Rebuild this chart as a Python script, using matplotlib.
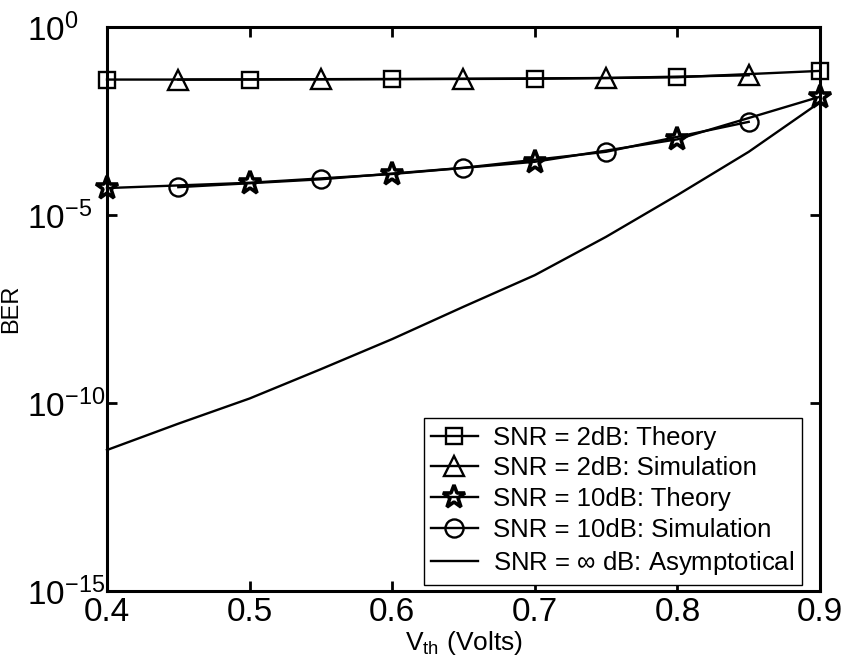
import matplotlib
matplotlib.use("Agg")
import matplotlib.pyplot as plt
import numpy as np

plt.rcParams['font.family'] = ['Liberation Sans', 'DejaVu Sans']
plt.rcParams['mathtext.fontset'] = 'custom'
plt.rcParams['mathtext.rm'] = 'Liberation Sans'
plt.rcParams['mathtext.it'] = 'Liberation Sans'

# Data
x_theory = [0.4, 0.5, 0.6, 0.7, 0.8, 0.9]
x_sim = [0.45, 0.55, 0.65, 0.75, 0.85]
ber_2db_theory = [0.040, 0.040, 0.041, 0.042, 0.046, 0.068]
ber_2db_sim = [0.040, 0.041, 0.042, 0.044, 0.052]
ber_10db_theory = [5.2e-5, 7.2e-5, 1.23e-4, 2.6e-4, 1.03e-3, 1.4e-2]
ber_10db_sim = [5.5e-5, 8.9e-5, 1.8e-4, 4.8e-4, 3.0e-3]
x_asym = [0.40, 0.45, 0.50, 0.55, 0.60, 0.65, 0.70, 0.75, 0.80, 0.85, 0.90]
log_ber_asym = [-11.25, -10.55, -9.88, -9.1, -8.3, -7.44, -6.60, -5.58, -4.47, -3.32, -2.0]
ber_asym = [10 ** v for v in log_ber_asym]

labels = ["SNR = 2dB: Theory", "SNR = 2dB: Simulation", "SNR = 10dB: Theory",
          "SNR = 10dB: Simulation", r"SNR = $\infty$ dB: Asymptotical"]
xticks = [0.4, 0.5, 0.6, 0.7, 0.8, 0.9]
ytick_exps = [-15, -10, -5, 0]

fig = plt.figure(figsize=(8.44, 6.69), dpi=100)
L, R, T, B = 107, 820, 27, 591
ax = fig.add_axes([L/844, 1-B/669, (R-L)/844, (B-T)/669])

lw = 1.7
mew = 1.7
ax.plot(x_theory, ber_2db_theory, '-s', color='k', lw=lw, ms=12, mfc='none', mew=mew, label=labels[0], clip_on=False, zorder=3)
ax.plot(x_sim, ber_2db_sim, '-^', color='k', lw=lw, ms=14, mfc='none', mew=mew, label=labels[1], clip_on=False, zorder=3)
ax.plot(x_theory, ber_10db_theory, '-*', color='k', lw=lw, ms=17, mfc='none', mew=2.6, label=labels[2], clip_on=False, zorder=3)
ax.plot(x_sim, ber_10db_sim, '-o', color='k', lw=lw, ms=13, mfc='none', mew=mew, label=labels[3], clip_on=False, zorder=3)
ax.plot(x_asym, ber_asym, '-', color='k', lw=lw, label=labels[4], clip_on=False, zorder=3)

ax.set_yscale('log')
ax.set_xlim(0.4, 0.9)
ax.set_ylim(1e-15, 1e0)
ax.set_xticks(xticks)
ax.set_xticklabels([f"{v:.1f}" for v in xticks])
ax.set_yticks([10.0 ** e for e in ytick_exps])
ax.set_yticklabels([r"$\mathregular{10^{%s}}$" % ("\u2212%d" % -e if e < 0 else "%d" % e) for e in ytick_exps])
ax.yaxis.set_minor_locator(matplotlib.ticker.NullLocator())
ax.tick_params(which='major', direction='in', length=7, width=2, top=True, right=True, labelsize=24)
ax.tick_params(axis='x', pad=4)
ax.tick_params(axis='y', pad=(L - 27) / 100 * 72)
for lab in ax.get_yticklabels():
    lab.set_horizontalalignment('left')
for s in ax.spines.values():
    s.set_linewidth(2.2)

ax.set_ylabel('BER', fontsize=17)
ax.yaxis.set_label_coords((22 - L) / (R - L), 0.5)
ax.set_xlabel(r'$\mathregular{V_{th}}$ (Volts)', fontsize=19)
ax.xaxis.set_label_coords(0.5, (B - 629) / (B - T))

leg = ax.legend(loc='lower right', fontsize=18.5, frameon=True, fancybox=False, edgecolor='k',
                bbox_to_anchor=((802 - L) / (R - L), (B - 585) / (B - T)), borderaxespad=0,
                handlelength=1.8, labelspacing=0.27, borderpad=0.3, handletextpad=0.6,
                framealpha=1)
leg.get_frame().set_linewidth(1.0)

fig.savefig('out.png', dpi=100)
